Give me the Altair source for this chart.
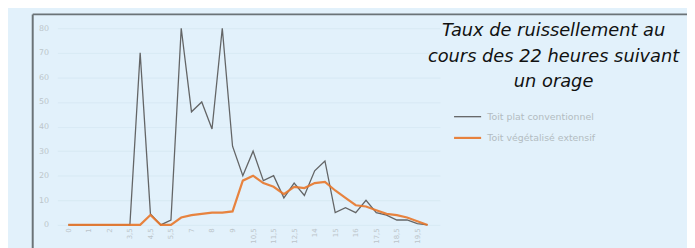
import altair as alt
import pandas as pd

# ---- data ----
idx = list(range(36))
toit_plat = [0, 0, 0, 0, 0, 0, 0, 70, 4.5, 0, 2, 80, 46, 50, 39, 80, 32, 20, 30, 18,
             20, 11, 17, 12, 22, 26, 5, 7, 5, 10, 5, 4, 2, 2, 0.5, 0]
toit_veg = [0, 0, 0, 0, 0, 0, 0, 0, 4, 0, 0, 3, 4, 4.5, 5, 5, 5.5, 18, 20, 17,
            15.5, 12.5, 15.5, 15, 17, 17.5, 14, 11, 8, 7.5, 6, 4.5, 4, 3, 1.5, 0]
series_names = ["Toit plat conventionnel", "Toit végétalisé extensif"]
x_tick_pos = list(range(0, 36, 2))
x_tick_labels = ["0", "1", "2", "3,5", "4,5", "5,5", "7", "8", "9", "10,5", "11,5",
                 "12,5", "14", "15", "16", "17,5", "18,5", "19,5"]
y_ticks = [0, 10, 20, 30, 40, 50, 60, 70, 80]
title_lines = ["Taux de ruissellement au", "cours des 22 heures suivant", "un orage"]

rows = []
for i, a, b in zip(idx, toit_plat, toit_veg):
    rows.append({"i": i, "serie": series_names[0], "v": a})
    rows.append({"i": i, "serie": series_names[1], "v": b})
df = pd.DataFrame(rows)

label_map = "{" + ",".join(f'"{p}":"{t}"' for p, t in zip(x_tick_pos, x_tick_labels)) + "}"

faint = "#bcc5ca"

lines = alt.Chart(df).mark_line(opacity=0.9).encode(
    x=alt.X("i:Q", scale=alt.Scale(domain=[-1.06, 36.2], nice=False, zero=False),
            axis=alt.Axis(values=x_tick_pos, labelExpr=f"{label_map}[datum.value]",
                          labelAngle=270, labelFontSize=7, labelColor=faint,
                          domain=False, ticks=False, grid=False, labelPadding=3,
                          title=None, labelFont="DejaVu Sans")),
    y=alt.Y("v:Q", scale=alt.Scale(domain=[0, 80], nice=False),
            axis=alt.Axis(values=y_ticks, labelFontSize=8, labelColor=faint,
                          domain=False, ticks=False, labelPadding=9,
                          gridColor="#d3e6f0", gridWidth=0.7, title=None,
                          labelFont="DejaVu Sans")),
    color=alt.Color("serie:N", sort=series_names,
                    scale=alt.Scale(domain=series_names, range=["#555555", "#e8772a"]),
                    legend=alt.Legend(orient="none", legendX=400, legendY=75, title=None,
                                      symbolType="stroke", symbolSize=750,
                                      symbolStrokeWidth=2, labelFontSize=9.5,
                                      labelColor="#b3bcc1", rowPadding=2,
                                      labelOffset=5, labelFont="DejaVu Sans")),
    strokeWidth=alt.StrokeWidth("serie:N", sort=series_names,
                                scale=alt.Scale(domain=series_names, range=[1.3, 2.2]),
                                legend=None),
    order=alt.Order("serie:N"),
)

frame_top = alt.Chart(alt.Data(values=[{}])).mark_rule(color="#6b7377", strokeWidth=2).encode(
    x=alt.value(-25), x2=alt.value(700), y=alt.value(-14))
frame_left = alt.Chart(alt.Data(values=[{}])).mark_rule(color="#6b7377", strokeWidth=2).encode(
    x=alt.value(-25), y=alt.value(-14), y2=alt.value(300))

title_layers = []
for line, yb in zip(title_lines, [8, 34, 59]):
    title_layers.append(
        alt.Chart(alt.Data(values=[{"t": line}])).mark_text(
            font="DejaVu Sans", fontStyle="italic", fontSize=18, color="#111111",
            align="center", baseline="alphabetic").encode(
            text="t:N", x=alt.value(502), y=alt.value(yb)))

chart = alt.layer(frame_top, frame_left, lines, *title_layers).properties(
    width=387, height=199,
    autosize=alt.AutoSizeParams(type="none"),
    padding={"left": 50, "top": 19, "right": 250, "bottom": 30},
    background="#e2f1fb",
).configure_view(stroke=None)

chart.save("out.html", embed_options={"renderer": "svg", "actions": False})
